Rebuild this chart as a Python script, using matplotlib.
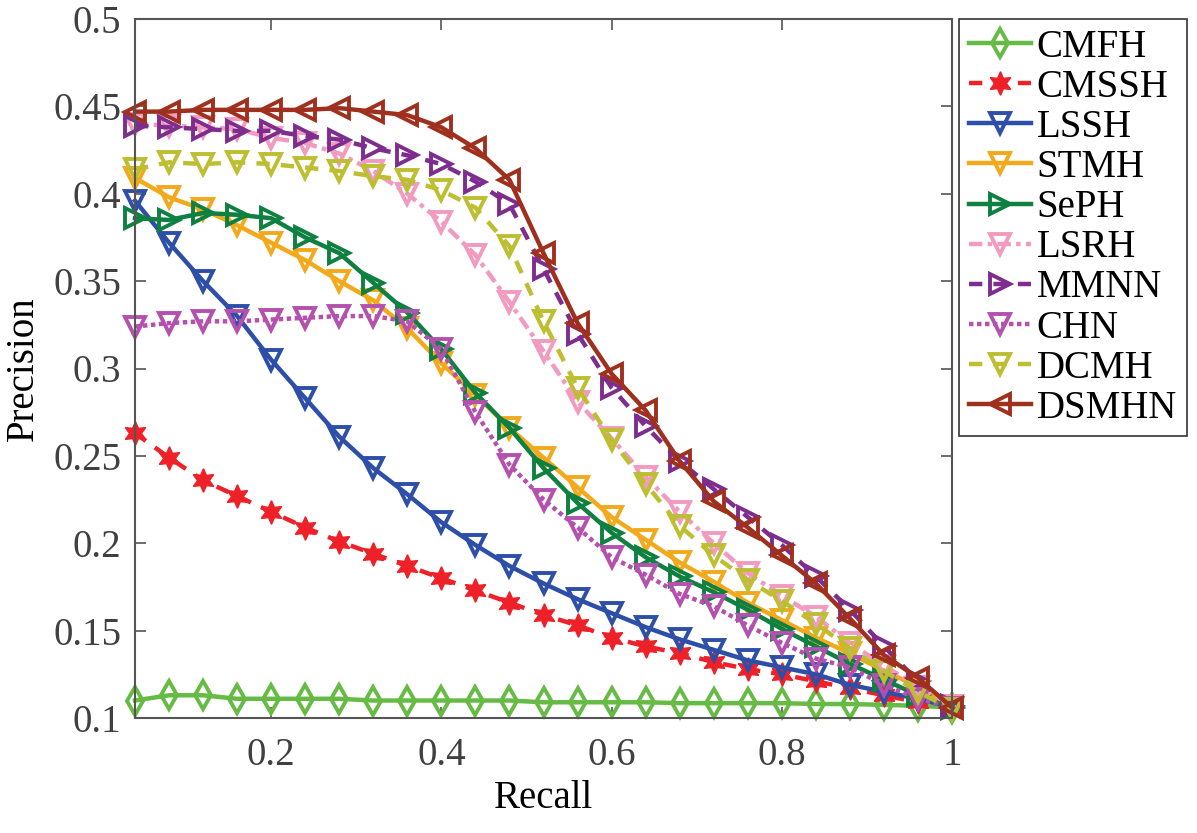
import matplotlib
matplotlib.use("Agg")
import matplotlib.pyplot as plt

plt.rcParams['font.family'] = ['Liberation Serif', 'DejaVu Serif']
plt.rcParams['mathtext.fontset'] = 'stix'

# Recall points
recall = [0.04, 0.08, 0.12, 0.16, 0.20, 0.24, 0.28, 0.32, 0.36, 0.40,
          0.44, 0.48, 0.52, 0.56, 0.60, 0.64, 0.68, 0.72, 0.76, 0.80,
          0.84, 0.88, 0.92, 0.96, 1.00]

# Precision per method
cmfh = [0.110, 0.113, 0.113, 0.111, 0.111, 0.111, 0.111, 0.110, 0.110, 0.110,
        0.110, 0.110, 0.109, 0.109, 0.109, 0.109, 0.1085, 0.1085, 0.1085, 0.1085,
        0.108, 0.108, 0.1075, 0.107, 0.106]
cmssh = [0.263, 0.249, 0.236, 0.227, 0.218, 0.209, 0.201, 0.194, 0.187, 0.180,
         0.173, 0.166, 0.159, 0.153, 0.146, 0.141, 0.137, 0.132, 0.128, 0.125,
         0.121, 0.117, 0.113, 0.109, 0.106]
lssh = [0.396, 0.372, 0.350, 0.330, 0.305, 0.283, 0.261, 0.243, 0.228, 0.212,
        0.199, 0.187, 0.177, 0.168, 0.160, 0.152, 0.145, 0.139, 0.133, 0.129,
        0.125, 0.119, 0.115, 0.111, 0.106]
stmh = [0.409, 0.398, 0.391, 0.382, 0.372, 0.362, 0.350, 0.339, 0.323, 0.303,
        0.285, 0.266, 0.249, 0.232, 0.215, 0.202, 0.189, 0.178, 0.166, 0.156,
        0.146, 0.137, 0.127, 0.118, 0.106]
seph = [0.386, 0.385, 0.389, 0.388, 0.386, 0.375, 0.366, 0.349, 0.332, 0.311,
        0.286, 0.266, 0.243, 0.223, 0.206, 0.192, 0.181, 0.172, 0.162, 0.151,
        0.141, 0.131, 0.122, 0.113, 0.106]
lsrh = [0.440, 0.439, 0.438, 0.437, 0.432, 0.429, 0.423, 0.413, 0.400, 0.384,
        0.365, 0.338, 0.310, 0.281, 0.260, 0.238, 0.218, 0.200, 0.183, 0.170,
        0.158, 0.143, 0.130, 0.118, 0.107]
mmnn = [0.439, 0.438, 0.437, 0.436, 0.436, 0.433, 0.431, 0.426, 0.422, 0.417,
        0.407, 0.394, 0.357, 0.320, 0.289, 0.267, 0.247, 0.231, 0.215, 0.199,
        0.181, 0.162, 0.141, 0.121, 0.107]
chn = [0.324, 0.326, 0.327, 0.327, 0.328, 0.329, 0.330, 0.330, 0.327, 0.311,
       0.275, 0.245, 0.225, 0.209, 0.192, 0.182, 0.171, 0.164, 0.153, 0.143,
       0.134, 0.129, 0.119, 0.111, 0.106]
dcmh = [0.414, 0.418, 0.417, 0.418, 0.417, 0.415, 0.413, 0.410, 0.408, 0.402,
        0.392, 0.370, 0.327, 0.289, 0.259, 0.234, 0.210, 0.193, 0.179, 0.167,
        0.154, 0.140, 0.127, 0.115, 0.105]
dsmhn = [0.447, 0.447, 0.448, 0.448, 0.448, 0.448, 0.449, 0.447, 0.445, 0.438,
         0.426, 0.408, 0.366, 0.326, 0.297, 0.276, 0.247, 0.224, 0.209, 0.193,
         0.177, 0.157, 0.136, 0.123, 0.106]

labels = ['CMFH', 'CMSSH', 'LSSH', 'STMH', 'SePH', 'LSRH', 'MMNN', 'CHN', 'DCMH', 'DSMHN']
series = [cmfh, cmssh, lssh, stmh, seph, lsrh, mmnn, chn, dcmh, dsmhn]

colors = ['#66BB44', '#EE2028', '#2E4FA8', '#F2A91C', '#0E8040',
          '#F39AC1', '#7E2C8E', '#B450AE', '#BDBE30', '#A0301E']
styles = ['-', (0, (3, 2.5)), '-', '-', '-', (0, (3, 1.2, 1, 1.2)),
          (0, (3, 2.5)), (0, (1, 0.8)), (0, (3, 2.5)), '-']
markers = ['d', (6, 1, 0), 'v', 'v', '>', 'v', '>', 'v', 'v', '<']

fig = plt.figure(figsize=(11.97, 8.33), dpi=100)
ax = fig.add_axes([135 / 1197, 1 - 718 / 833, (952 - 135) / 1197, (718 - 19) / 833])

for lab, y, c, ls, m in zip(labels, series, colors, styles, markers):
    filled = (lab == 'CMSSH')
    ax.plot(recall, y, color=c, linestyle=ls, linewidth=3.2, marker=m,
            markersize=17 if filled else 14,
            markerfacecolor=c if filled else 'none',
            markeredgecolor=c, markeredgewidth=1 if filled else 2.8,
            label=lab, clip_on=False)

ax.set_xlim(0.04, 1)
ax.set_ylim(0.1, 0.5)
ax.set_xticks([0.2, 0.4, 0.6, 0.8, 1])
ax.set_xticklabels(['0.2', '0.4', '0.6', '0.8', '1'])
yt = [0.1, 0.15, 0.2, 0.25, 0.3, 0.35, 0.4, 0.45, 0.5]
ax.set_yticks(yt)
ax.set_yticklabels(['0.1', '0.15', '0.2', '0.25', '0.3', '0.35', '0.4', '0.45', '0.5'])
ax.tick_params(direction='in', length=8, width=1.2, colors='#555555',
               labelcolor='#404040', labelsize=28, top=True, right=True, pad=10)
ax.tick_params(axis='x', pad=14)
for s in ax.spines.values():
    s.set_color('#555555')
    s.set_linewidth(1.5)

ax.set_xlabel('Recall', fontsize=28, labelpad=4)
ax.set_ylabel('Precision', fontsize=28, labelpad=8)

leg = fig.legend(loc='upper left', bbox_to_anchor=(959 / 1197, 1 - 19 / 833),
                 fontsize=28, frameon=True, fancybox=False, edgecolor='black',
                 handlelength=1.6, handletextpad=0.15, labelspacing=0.08,
                 borderpad=0.25, borderaxespad=0)
leg.get_frame().set_linewidth(1.2)

fig.savefig('out.png', dpi=100)
